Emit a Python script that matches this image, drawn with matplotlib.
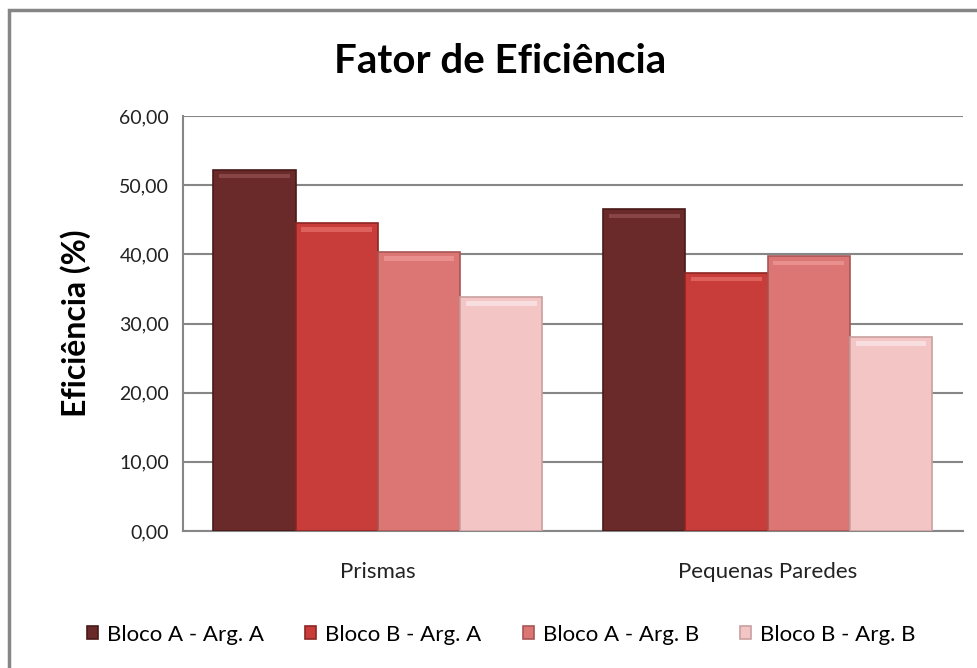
import matplotlib.pyplot as plt
import numpy as np
from matplotlib.patches import Rectangle

categories = ['Prismas', 'Pequenas Paredes']
series = ['Bloco A - Arg. A', 'Bloco B - Arg. A', 'Bloco A - Arg. B', 'Bloco B - Arg. B']
values = [
	[52.2, 46.5],
	[44.5, 37.3],
	[40.3, 39.7],
	[33.8, 28.0],
]
colors = ['#6b2a2a', '#c83c3a', '#dc7674', '#f3c5c5']
edges = ['#4a1a1a', '#8e2624', '#a85654', '#c9a0a0']
highlights = ['#9a5a58', '#f07a76', '#f3a3a1', '#fdf0f0']
yticks = np.arange(0, 61, 10)

plt.rcParams['font.family'] = ['Lato', 'DejaVu Sans']

fig = plt.figure(figsize=(9.77, 6.68), dpi=100)
ax = fig.add_axes([0.1873, 0.2051, 0.798, 0.6212])

# outer chart border (only top/left visible in the crop)
fig.patches.append(Rectangle((8.5/977, -0.1), 1.2, 1.1 - 10.5/668, transform=fig.transFigure,
	fill=False, edgecolor='#868686', linewidth=2.5))

x = np.arange(len(categories))
w = 0.211
for i, (vals, c) in enumerate(zip(values, colors)):
	pos = x + (i - 1.5) * w
	ax.bar(pos, vals, width=w, color=c, edgecolor=edges[i], linewidth=1.2, zorder=3, label=series[i])
	# bevel highlight near the top of each bar
	ax.bar(pos, [0.6] * len(vals), bottom=np.array(vals) - 1.2, width=w * 0.86,
		color=highlights[i], alpha=0.6, linewidth=0, zorder=4)

ax.set_xlim(-0.5, 1.5)
ax.set_ylim(0, 60)
ax.set_yticks(yticks)
ax.set_yticklabels([f'{v:.2f}'.replace('.', ',') for v in yticks], fontsize=14, color='#222222')
ax.set_xticks(x)
ax.set_xticklabels(categories, fontsize=16, color='#222222')
ax.tick_params(axis='x', length=0, pad=22)
ax.tick_params(axis='y', length=0, pad=10)
ax.yaxis.grid(True, color='#868686', linewidth=1.5, zorder=0)
ax.set_axisbelow(True)
for s in ['top', 'right']:
	ax.spines[s].set_visible(False)
for s in ['left', 'bottom']:
	ax.spines[s].set_color('#868686')
	ax.spines[s].set_linewidth(1.5)

ax.set_ylabel('Eficiência (%)', fontsize=23, fontweight='bold', labelpad=20)
fig.text(0.512, 0.908, 'Fator de Eficiência', ha='center', va='center', fontsize=29, fontweight='bold')

fig.legend(loc='center', bbox_to_anchor=(0.513, 0.05), ncol=4, frameon=False, fontsize=16,
	handlelength=0.5, handleheight=0.5, handletextpad=0.4, columnspacing=1.85)

fig.savefig('out.png', dpi=100)
